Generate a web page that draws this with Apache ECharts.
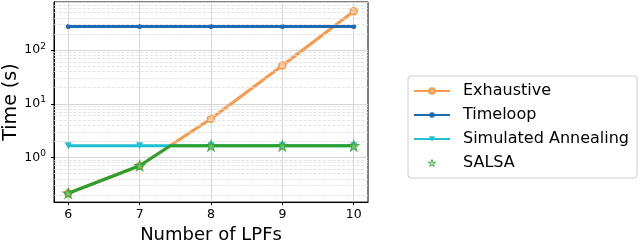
<!DOCTYPE html>
<html><head><meta charset="utf-8">
<script src="https://cdn.jsdelivr.net/npm/echarts@6/dist/echarts.min.js"></script>
<style>html,body{margin:0;padding:0;background:#fff}#c{width:640px;height:249px}</style>
</head><body><div id="c"></div>
<script>
const xValues = [6, 7, 8, 9, 10];
const exhaustive = [0.215, 0.70, 5.25, 51.8, 531];
const timeloop = [275, 275, 275, 275, 275];
const simAnneal = [1.65, 1.65, 1.65, 1.65, 1.65];
const salsa = [0.215, 0.70, 1.65, 1.65, 1.65];
const salsaLineX = [6, 7, 7.43, 8, 9, 10];
const salsaLineY = [0.215, 0.70, 1.65, 1.65, 1.65, 1.65];
const xTicks = [6, 7, 8, 9, 10];
const minorGridValues = [0.2,0.3,0.4,0.5,0.6,0.7,0.8,0.9,2,3,4,5,6,7,8,9,20,30,40,50,60,70,80,90,200,300,400,500,600,700];

const font = 'DejaVu Sans';
const pair = (xs, ys) => xs.map((x, i) => [x, ys[i]]);
const star = 'path://M50,0 L61.2,34.5 L97.6,34.5 L68.2,55.9 L79.4,90.5 L50,69.1 L20.6,90.5 L31.8,55.9 L2.4,34.5 L38.8,34.5 Z';

const chart = echarts.init(document.getElementById('c'), null, {renderer: 'canvas'});
chart.setOption({
  animation: false,
  grid: {left: 54, right: 272, top: 2, bottom: 38, show: true, borderColor: '#000', borderWidth: 1, backgroundColor: 'transparent'},
  xAxis: {
    type: 'value', min: 5.8, max: 10.2,
    name: 'Number of LPFs', nameLocation: 'middle', nameGap: 21,
    nameTextStyle: {fontFamily: font, fontSize: 18, color: '#000'},
    axisLine: {show: true, lineStyle: {color: '#000', width: 1}},
    axisTick: {show: true, length: 3, lineStyle: {color: '#000'}, customValues: xTicks},
    axisLabel: {fontFamily: font, fontSize: 12.5, color: '#000', margin: 6, customValues: xTicks},
    splitLine: {show: true, lineStyle: {color: '#d6d6d6', width: 1}}
  },
  yAxis: {
    type: 'log', logBase: 10, min: 0.147, max: 791,
    name: 'Time (s)', nameLocation: 'middle', nameGap: 33,
    nameTextStyle: {fontFamily: font, fontSize: 19, color: '#000'},
    axisLine: {show: true, lineStyle: {color: '#000', width: 1}},
    axisTick: {show: true, length: 3, lineStyle: {color: '#000'}},
    axisLabel: {
      showMinLabel: false, showMaxLabel: false, margin: 8,
      formatter: function (v) {
        const l = Math.log10(v), e = Math.round(l);
        if (Math.abs(l - e) > 1e-6) return '';
        return '{b|10}{s|' + e + '}';
      },
      rich: {
        b: {fontFamily: font, fontSize: 12.5, color: '#000'},
        s: {fontFamily: font, fontSize: 9, color: '#000', verticalAlign: 'bottom', padding: [0, 0, 8, 0]}
      }
    },
    splitLine: {show: true, lineStyle: {color: '#d6d6d6', width: 1}}
  },
  legend: {
    orient: 'vertical', left: 408, top: 76,
    data: ['Exhaustive', 'Timeloop', 'Simulated Annealing', {name: 'SALSA', itemStyle: {color: '#a8dca8', borderColor: '#2ca02c', borderWidth: 1}}],
    itemWidth: 36, itemHeight: 7, itemGap: 8,
    padding: [7, 8, 7, 5],
    borderColor: '#cccccc', borderWidth: 1, borderRadius: 3,
    textStyle: {fontFamily: font, fontSize: 16, lineHeight: 16, color: '#000', padding: [0, 0, 0, 8]}
  },
  series: [
    {
      name: 'Exhaustive', type: 'line', data: pair(xValues, exhaustive),
      color: '#f79a4c', symbol: 'circle', symbolSize: 7,
      lineStyle: {width: 3, color: '#f79a4c'},
      itemStyle: {color: '#f9c490', borderColor: '#f79a4c', borderWidth: 1.5},
      markLine: {
        silent: true, symbol: 'none', label: {show: false}, animation: false,
        lineStyle: {type: 'dashed', color: '#dedede', width: 0.8},
        data: minorGridValues.map(v => ({yAxis: v}))
      },
      z: 2
    },
    {
      name: 'Timeloop', type: 'line', data: pair(xValues, timeloop),
      color: '#1f69b0', symbol: 'circle', symbolSize: 5,
      lineStyle: {width: 3, color: '#1f69b0'},
      itemStyle: {color: '#1f69b0'},
      z: 3
    },
    {
      name: 'Simulated Annealing', type: 'line', data: pair(xValues, simAnneal),
      color: '#1fbfd4', symbol: 'triangle', symbolRotate: 180, symbolSize: 7,
      lineStyle: {width: 3, color: '#1fbfd4'},
      itemStyle: {color: '#1fbfd4'},
      z: 4
    },
    {
      name: 'SALSA line', type: 'line', data: pair(salsaLineX, salsaLineY),
      color: '#2ca02c', showSymbol: false, symbol: 'none',
      lineStyle: {width: 3, color: '#2ca02c'},
      z: 5
    },
    {
      name: 'SALSA', type: 'scatter', data: pair(xValues, salsa),
      color: '#2ca02c', symbol: star, symbolSize: 10,
      itemStyle: {color: '#7cc97c', borderColor: '#2ca02c', borderWidth: 1.2},
      z: 6
    }
  ]
});
</script></body></html>
